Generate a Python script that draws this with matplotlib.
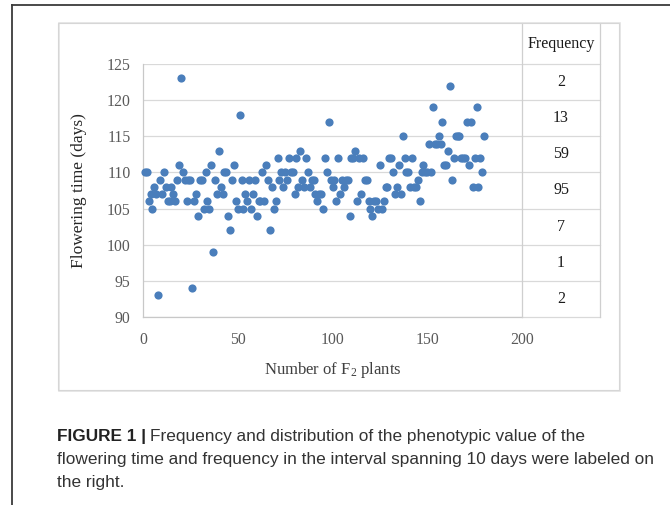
import matplotlib
matplotlib.use('Agg')
import matplotlib.pyplot as plt
from matplotlib.patches import Rectangle
from matplotlib.lines import Line2D
import numpy as np

# ---------------- data ----------------
days = [110, 110, 106, 107, 105, 108, 107, 93, 109, 107,
        110, 108, 106, 106, 108, 107, 106, 109, 111, 123,
        110, 109, 106, 109, 109, 94, 106, 107, 104, 109,
        109, 105, 110, 106, 105, 111, 99, 109, 107, 113,
        108, 107, 110, 110, 104, 102, 109, 111, 106, 105,
        118, 109, 105, 107, 106, 109, 105, 107, 109, 104,
        106, 106, 110, 106, 111, 109, 102, 108, 105, 106,
        112, 109, 110, 108, 110, 109, 112, 110, 110, 107,
        112, 108, 113, 109, 108, 112, 110, 108, 109, 109,
        107, 106, 107, 107, 105, 112, 110, 117, 109, 108,
        109, 106, 112, 107, 109, 108, 109, 109, 104, 112,
        112, 113, 106, 112, 107, 112, 109, 109, 106, 105,
        104, 106, 106, 105, 111, 105, 106, 108, 108, 112,
        112, 110, 107, 108, 111, 107, 115, 112, 110, 110,
        108, 112, 108, 108, 109, 106, 110, 111, 110, 110,
        114, 110, 119, 114, 114, 115, 114, 117, 111, 111,
        113, 122, 109, 112, 115, 115, 115, 112, 112, 112,
        117, 111, 117, 108, 112, 119, 108, 112, 110, 115]
plant_no = np.arange(1, len(days) + 1)

x_ticks = [0, 50, 100, 150, 200]
y_ticks = [90, 95, 100, 105, 110, 115, 120, 125]
freq_bin_low = [120, 115, 110, 105, 100, 95, 90]
freq_counts = [2, 13, 59, 95, 7, 1, 2]
freq_header = "Frequency"
x_label = "Number of F$_{\\mathrm{2}}$ plants"
y_label = "Flowering time (days)"
caption_bold = "FIGURE 1 |"
caption_lines = ["Frequency and distribution of the phenotypic value of the",
                 "flowering time and frequency in the interval spanning 10 days were labeled on",
                 "the right."]

# ---------------- style ----------------
plt.rcParams['mathtext.fontset'] = 'custom'
plt.rcParams['mathtext.rm'] = 'Liberation Serif'
plt.rcParams['mathtext.it'] = 'Liberation Serif:italic'
SERIF = 'Liberation Serif'
W, H = 670, 505
fig = plt.figure(figsize=(6.7, 5.05), dpi=100)
fig.patch.set_facecolor('white')

def fx(px):
    return px / W

def fy(py):
    return 1 - py / H

# outer dark frame lines
fig.add_artist(Line2D([fx(12), 1.0], [fy(5), fy(5)], color='#3a3a3a', lw=1.3))
fig.add_artist(Line2D([fx(12), fx(12)], [fy(5), 0.0], color='#3a3a3a', lw=1.3))

# chart box (light)
fig.add_artist(Rectangle((fx(59), fy(391)), fx(620) - fx(59), fy(23) - fy(391),
                         transform=fig.transFigure, fill=False, ec='#e3e3e3', lw=1.2))
fig.add_artist(Rectangle((fx(58), fy(390)), fx(619) - fx(58), fy(23) - fy(390),
                         transform=fig.transFigure, fill=False, ec='#d6d6d6', lw=0.8))

grid_c = '#d9d9d9'
# main axes
ax = fig.add_axes([fx(143), fy(317), fx(522) - fx(143), fy(64) - fy(317)])
ax.set_xlim(0, 200)
ax.set_ylim(90, 125)
ax.set_xticks(x_ticks)
ax.set_yticks(y_ticks)
ax.grid(axis='y', color=grid_c, lw=0.9)
ax.set_axisbelow(True)
for s in ['top', 'right']:
    ax.spines[s].set_visible(False)
for s in ['left', 'bottom']:
    ax.spines[s].set_color('#c8c8c8')
    ax.spines[s].set_linewidth(0.9)
ax.tick_params(axis='both', length=0, colors='#595959', labelsize=11.3)
ax.tick_params(axis='y', pad=9)
ax.tick_params(axis='x', pad=11)
for lab in ax.get_xticklabels() + ax.get_yticklabels():
    lab.set_fontfamily(SERIF)
ax.plot(plant_no, days, 'o', ms=5.9, color='#4a7ebb', mec='none', clip_on=False, zorder=3)
ax.set_xlabel(x_label, fontfamily=SERIF, fontsize=12, color='#404040', labelpad=12)
ax.set_ylabel(y_label, fontfamily=SERIF, fontsize=12.5, color='#262626')
ax.yaxis.set_label_coords((87 - 143) / (522 - 143), 0.5)
ax.xaxis.set_label_coords(0.5, -(370 - 317) / (317 - 64))
ax.xaxis.label.set_verticalalignment('center')

# frequency table axes
header_top = 125 + (64 - 23) / ((317 - 64) / 35)
tax = fig.add_axes([fx(522), fy(317), fx(600) - fx(522), fy(23) - fy(317)])
tax.set_xlim(0, 1)
tax.set_ylim(90, header_top)
tax.axis('off')
for yv in y_ticks:
    tax.plot([0, 1], [yv, yv], color=grid_c, lw=0.9, clip_on=False)
tax.plot([0, 0], [90, header_top], color='#cfcfcf', lw=0.9, clip_on=False)
tax.plot([1, 1], [90, header_top], color='#cfcfcf', lw=0.9, clip_on=False)
tax.text(0.5, (125 + header_top) / 2, freq_header, ha='center', va='center',
         fontfamily=SERIF, fontsize=11.5, color='#1a1a1a')
for lo, c in zip(freq_bin_low, freq_counts):
    tax.text(0.5, lo + 2.5, str(c), ha='center', va='center',
             fontfamily=SERIF, fontsize=11.5, color='#1a1a1a')

# caption (fit line 2 width to ~598 px)
renderer = fig.canvas.get_renderer()
probe = fig.text(0, 0, caption_lines[1], fontfamily='Liberation Sans', fontsize=12)
w = probe.get_window_extent(renderer).width
probe.remove()
cap_fs = 12 * 598 / w
cap_color = '#333333'
x0 = fx(57)
line_y = [437, 459.5, 482]
tb = fig.text(x0, fy(line_y[0]), caption_bold, fontfamily='Liberation Sans', fontsize=cap_fs,
              fontweight='bold', color='#222222', va='center')
bw = tb.get_window_extent(renderer).width
fig.text(x0 + (bw + cap_fs * 0.3) / W, fy(line_y[0]), caption_lines[0], fontfamily='Liberation Sans',
         fontsize=cap_fs, color=cap_color, va='center')
for t, yy in zip(caption_lines[1:], line_y[1:]):
    fig.text(x0, fy(yy), t, fontfamily='Liberation Sans', fontsize=cap_fs, color=cap_color, va='center')

fig.savefig('out.png', dpi=100)
